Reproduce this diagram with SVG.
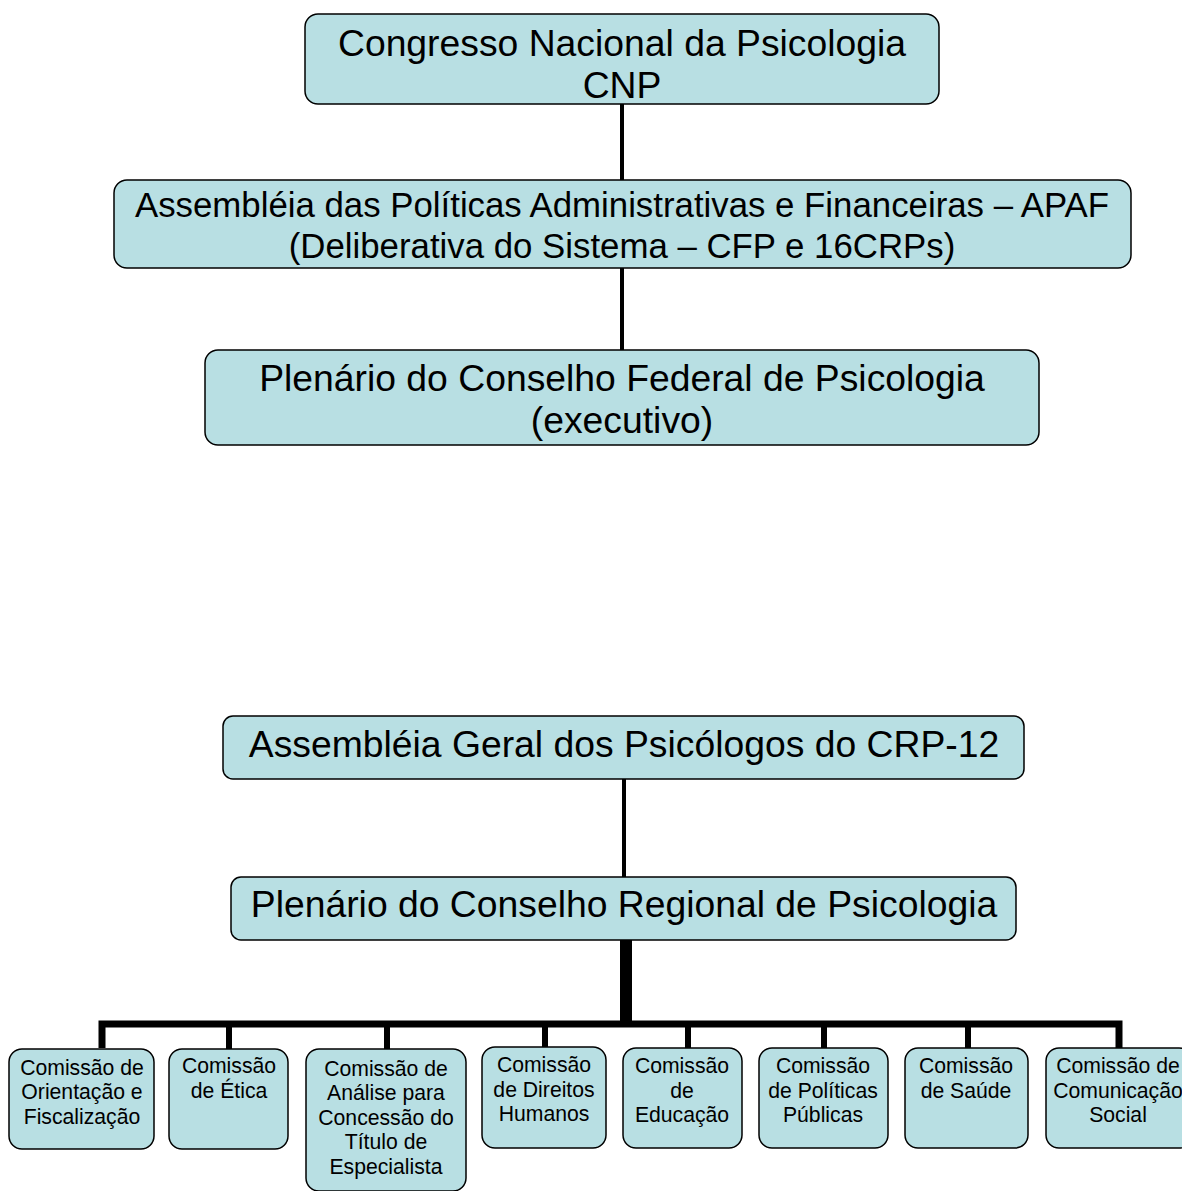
<svg xmlns="http://www.w3.org/2000/svg" width="1182" height="1191" viewBox="0 0 1182 1191">
<style>
.box{fill:#B8DFE3;stroke:#000;stroke-width:1.5}
.t{font-family:"Liberation Sans",Arial,sans-serif;fill:#000;text-anchor:middle}
.big{font-size:37.3px}
.mid{font-size:34.8px}
.sm{font-size:21.2px}
.ln{stroke:#000;fill:none}
</style>
<rect width="1182" height="1191" fill="#fff"/>
<g id="connectors">
<line class="ln" x1="622" y1="104" x2="622" y2="180" stroke-width="4"/>
<line class="ln" x1="622" y1="268" x2="622" y2="350" stroke-width="4"/>
<line class="ln" x1="624" y1="779" x2="624" y2="877" stroke-width="4"/>
<rect x="620" y="940" width="12" height="84" fill="#000"/>
<polyline class="ln" stroke-width="7" points="102,1048 102,1024 1119,1024 1119,1048"/>
<line class="ln" x1="229" y1="1024" x2="229" y2="1049" stroke-width="6"/>
<line class="ln" x1="387" y1="1024" x2="387" y2="1049" stroke-width="6"/>
<line class="ln" x1="545" y1="1024" x2="545" y2="1047" stroke-width="6"/>
<line class="ln" x1="688" y1="1024" x2="688" y2="1048" stroke-width="6"/>
<line class="ln" x1="824" y1="1024" x2="824" y2="1048" stroke-width="6"/>
<line class="ln" x1="968" y1="1024" x2="968" y2="1048" stroke-width="6"/>
</g>
<g id="cnp">
<rect class="box" x="305" y="14" width="634" height="90" rx="13"/>
<text class="t big" x="622" y="56">Congresso Nacional da Psicologia</text>
<text class="t big" x="622" y="98">CNP</text>
</g>
<g id="apaf">
<rect class="box" x="114" y="180" width="1017" height="88" rx="13"/>
<text class="t mid" x="622" y="217">Assembléia das Políticas Administrativas e Financeiras – APAF</text>
<text class="t mid" x="622" y="258">(Deliberativa do Sistema – CFP e 16CRPs)</text>
</g>
<g id="cfp">
<rect class="box" x="205" y="350" width="834" height="95" rx="13"/>
<text class="t big" x="622" y="391">Plenário do Conselho Federal de Psicologia</text>
<text class="t big" x="622" y="433">(executivo)</text>
</g>
<g id="assembleia-geral">
<rect class="box" x="223" y="716" width="801" height="63" rx="10"/>
<text class="t big" x="624" y="757">Assembléia Geral dos Psicólogos do CRP-12</text>
</g>
<g id="crp">
<rect class="box" x="231" y="877" width="785" height="63" rx="10"/>
<text class="t big" x="624" y="917">Plenário do Conselho Regional de Psicologia</text>
</g>
<g id="c-orientacao">
<rect class="box" x="9" y="1049" width="145" height="100" rx="13"/>
<text class="t sm" x="82" y="1075">Comissão de</text>
<text class="t sm" x="82" y="1099">Orientação e</text>
<text class="t sm" x="82" y="1124">Fiscalização</text>
</g>
<g id="c-etica">
<rect class="box" x="169" y="1049" width="119" height="100" rx="13"/>
<text class="t sm" x="229" y="1073">Comissão</text>
<text class="t sm" x="229" y="1098">de Ética</text>
</g>
<g id="c-titulo">
<rect class="box" x="306" y="1049" width="160" height="142" rx="13"/>
<text class="t sm" x="386" y="1076">Comissão de</text>
<text class="t sm" x="386" y="1100">Análise para</text>
<text class="t sm" x="386" y="1125">Concessão do</text>
<text class="t sm" x="386" y="1149">Título de</text>
<text class="t sm" x="386" y="1174">Especialista</text>
</g>
<g id="c-direitos">
<rect class="box" x="482" y="1047" width="124" height="101" rx="13"/>
<text class="t sm" x="544" y="1072">Comissão</text>
<text class="t sm" x="544" y="1097">de Direitos</text>
<text class="t sm" x="544" y="1121">Humanos</text>
</g>
<g id="c-educacao">
<rect class="box" x="623" y="1048" width="119" height="100" rx="13"/>
<text class="t sm" x="682" y="1073">Comissão</text>
<text class="t sm" x="682" y="1098">de</text>
<text class="t sm" x="682" y="1122">Educação</text>
</g>
<g id="c-politicas">
<rect class="box" x="759" y="1048" width="129" height="100" rx="13"/>
<text class="t sm" x="823" y="1073">Comissão</text>
<text class="t sm" x="823" y="1098">de Políticas</text>
<text class="t sm" x="823" y="1122">Públicas</text>
</g>
<g id="c-saude">
<rect class="box" x="905" y="1048" width="123" height="100" rx="13"/>
<text class="t sm" x="966" y="1073">Comissão</text>
<text class="t sm" x="966" y="1098">de Saúde</text>
</g>
<g id="c-comunicacao">
<rect class="box" x="1046" y="1048" width="146" height="100" rx="13"/>
<text class="t sm" x="1118" y="1073">Comissão de</text>
<text class="t sm" x="1118" y="1098">Comunicação</text>
<text class="t sm" x="1118" y="1122">Social</text>
</g>
</svg>
